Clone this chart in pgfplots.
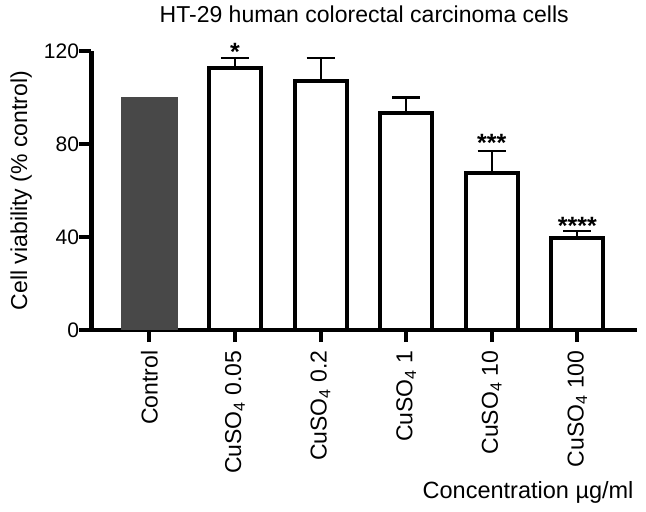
\documentclass[border=0pt]{standalone}
\usepackage{fontspec}
\setmainfont{Liberation Sans}
\usepackage{pgfplots}
\pgfplotsset{compat=1.18}
\definecolor{ctrl}{RGB}{72,72,72}
\newcommand{\fs}[1]{\fontsize{#1}{#1}\selectfont}
\begin{document}
\begin{tikzpicture}
\useasboundingbox (-91.5bp,-182bp) rectangle (554.5bp,330bp);
\begin{axis}[
  scale only axis, width=545.5bp, height=279bp,
  xmin=-0.675, xmax=5.697, ymin=0, ymax=120,
  clip=false,
  axis lines=left,
  axis line style={-, line width=4.5bp, black},
  tick style={line width=4bp, black},
  major tick length=12bp,
  tick align=outside,
  /pgf/number format/assume math mode=true,
  ytick={0,40,80,120},
  yticklabel style={font=\fs{21bp}, xshift=3bp},
  xtick={0,1,2,3,4,5},
  xticklabels={Control, CuSO\textsubscript{4} 0.05, CuSO\textsubscript{4} 0.2, CuSO\textsubscript{4} 1, CuSO\textsubscript{4} 10, CuSO\textsubscript{4} 100},
  xticklabel style={font=\fs{23bp}, rotate=90, anchor=east},
  xticklabel shift=5bp,
  title={HT-29 human colorectal carcinoma cells},
  title style={font=\fs{23bp}, at={(axis description cs:0.5,1)}, anchor=base, yshift=23bp},
  ylabel={Cell viability (\% control)},
  ylabel style={font=\fs{23bp}, at={(axis description cs:-0.129,0.5)}, anchor=center},
  xlabel={Concentration µg/ml},
  xlabel style={font=\fs{23.5bp}, at={(axis description cs:1,0)}, anchor=base east, yshift=-168bp},
]
\addplot[ybar, bar width=57.3bp, bar shift=0pt, fill=ctrl, draw=none] coordinates {(0,100)};
\addplot[ybar, bar width=52bp, bar shift=0pt, fill=white, draw=black, line width=4bp,
  error bars/.cd, y dir=plus, y explicit,
  error bar style={line width=2bp, black},
  error mark options={rotate=90, line width=2bp, mark size=14bp, black}]
  coordinates {(1,112.7) +- (0,4.4) (2,106.9) +- (0,9.9) (3,93.4) +- (0,6.6) (4,67.4) +- (0,9.5) (5,39.6) +- (0,2.8)};
\node[anchor=base, font=\fs{25bp}\bfseries, inner sep=0pt] at (axis cs:1,116.0) {*};
\node[anchor=base, font=\fs{25bp}\bfseries, inner sep=0pt] at (axis cs:4,76.7) {***};
\node[anchor=base, font=\fs{25bp}\bfseries, inner sep=0pt] at (axis cs:5,41.2) {****};
\end{axis}
\end{tikzpicture}
\end{document}
